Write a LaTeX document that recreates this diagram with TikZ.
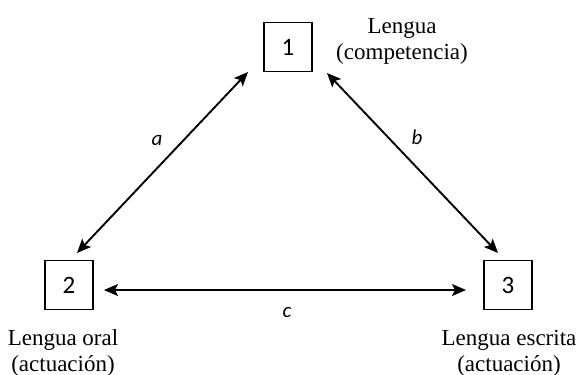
\documentclass[tikz,border=0pt]{standalone}
\usepackage{fontspec}
\setmainfont{Liberation Serif}
\newfontfamily\calfont{Carlito}
\usetikzlibrary{arrows.meta}
\begin{document}
\begin{tikzpicture}[x=1pt,y=-1pt,
  numbox/.style={draw,line width=1.3pt,minimum width=48pt,minimum height=49pt,inner sep=0pt,font=\calfont\fontsize{25}{28}\selectfont},
  caption/.style={align=center,inner sep=0pt,font=\fontsize{23}{26}\selectfont},
  lbl/.style={inner sep=0pt,font=\calfont\itshape\fontsize{21}{24}\selectfont},
  dbl/.style={line width=1.9pt,{Stealth[length=14pt,width=12pt,inset=3pt]}-{Stealth[length=14pt,width=12pt,inset=3pt]}}]
\useasboundingbox (0,0) rectangle (579,375);
\node[numbox] (n1) at (288,47) {1};
\node[numbox] (n2) at (69,285) {2};
\node[numbox] (n3) at (508,285) {3};
\node[caption] (t1) at (402,41) {Lengua\\(competencia)};
\node[caption] (t2) at (63,353) {Lengua oral\\(actuación)};
\node[caption] (t3) at (509,353) {Lengua escrita\\(actuación)};
\coordinate (a1) at (77,253);
\coordinate (a2) at (248,72);
\coordinate (b1) at (327,73);
\coordinate (b2) at (498,253);
\coordinate (c1) at (104,290);
\coordinate (c2) at (466,290);
\draw[dbl] (a1) -- (a2);
\draw[dbl] (b1) -- (b2);
\draw[dbl] (c1) -- (c2);
\node[lbl] (la) at (157,140) {a};
\node[lbl] (lb) at (417,137) {b};
\node[lbl] (lc) at (287,312) {c};
\end{tikzpicture}
\end{document}
